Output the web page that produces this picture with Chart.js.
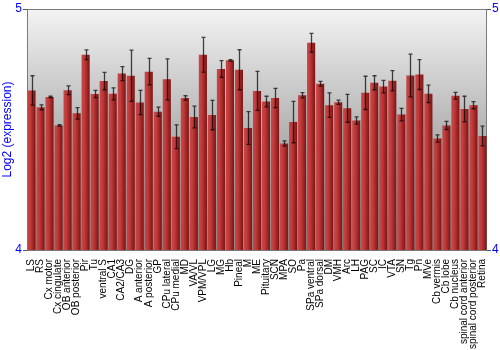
<!DOCTYPE html>
<html>
<head>
<meta charset="utf-8">
<script src="https://cdn.jsdelivr.net/npm/chart.js@4"></script>
<style>
  html, body { margin: 0; padding: 0; background: #fff; }
  #wrap { width: 500px; height: 350px; }
</style>
</head>
<body>
<div id="wrap"><canvas id="chart" width="500" height="350"></canvas></div>
<script>
// Regions (x axis)
const regions = [
  'LS', 'RS', 'Cx motor', 'Cx cingulate', 'OB anterior', 'OB posterior', 'Pir', 'Tu',
  'ventral S', 'CA1', 'CA2/CA3', 'DG', 'A anterior', 'A posterior', 'GP', 'CPu lateral',
  'CPu medial', 'MD', 'VA/VL', 'VPM/VPL', 'LG', 'MG', 'Hb', 'Pineal', 'M', 'ME',
  'Pituitary', 'SCN', 'MPA', 'SO', 'Pa', 'SPa ventral', 'SPa dorsal', 'DM', 'VMH', 'Arc',
  'LH', 'PAG', 'SC', 'IC', 'VTA', 'SN', 'Tg', 'Pn', 'MVe', 'Cb vermis', 'Cb lobe',
  'Cb nucleus', 'spinal cord anterior', 'spinal cord posterior', 'Retina'
];

// mean log2 expression
const expression = [
  4.662, 4.592, 4.635, 4.517, 4.663, 4.567, 4.810, 4.647,
  4.701, 4.648, 4.732, 4.723, 4.612, 4.740, 4.574, 4.708,
  4.470, 4.631, 4.552, 4.810, 4.560, 4.751, 4.787, 4.748, 4.506, 4.660,
  4.616, 4.631, 4.442, 4.531, 4.642, 4.860, 4.690, 4.601, 4.613, 4.588,
  4.537, 4.652, 4.694, 4.678, 4.702, 4.562, 4.724, 4.728, 4.648, 4.463, 4.517,
  4.640, 4.585, 4.601, 4.473
];

// error (half range)
const errors = [
  0.061, 0.010, 0.003, 0.003, 0.018, 0.024, 0.020, 0.015,
  0.036, 0.025, 0.029, 0.106, 0.050, 0.055, 0.019, 0.085,
  0.049, 0.009, 0.045, 0.072, 0.061, 0.035, 0.003, 0.083, 0.068, 0.081,
  0.022, 0.040, 0.011, 0.086, 0.011, 0.039, 0.010, 0.051, 0.009, 0.058,
  0.015, 0.069, 0.029, 0.026, 0.042, 0.026, 0.089, 0.062, 0.036, 0.015, 0.017,
  0.014, 0.053, 0.015, 0.041
];

const yTicks = [4, 5];

const BLUE = '#0000ff';
const FONT = "'Liberation Sans', Arial, sans-serif";

// grey gradient behind the bars + frame
const plotBackground = {
  id: 'plotBackground',
  beforeDraw(chart) {
    const { ctx, chartArea: a } = chart;
    if (!a) return;
    const g = ctx.createLinearGradient(0, a.top, 0, a.bottom);
    g.addColorStop(0, '#f3f3f3');
    g.addColorStop(0.5, '#b4b4b4');
    g.addColorStop(1, '#8c8c8c');
    ctx.save();
    ctx.fillStyle = g;
    ctx.fillRect(a.left, a.top, a.right - a.left, a.bottom - a.top);
    ctx.strokeStyle = '#7a7a7a';
    ctx.lineWidth = 1;
    ctx.strokeRect(a.left + 0.5, a.top + 0.5, a.right - a.left - 1, a.bottom - a.top);
    ctx.restore();
  }
};

// error bars drawn through the y scale
const errorBars = {
  id: 'errorBars',
  afterDatasetsDraw(chart) {
    const { ctx } = chart;
    const xs = chart.scales.x, ys = chart.scales.y;
    ctx.save();
    ctx.strokeStyle = 'rgba(0,0,0,0.72)';
    ctx.lineWidth = 1.3;
    expression.forEach((v, i) => {
      const x = Math.round(xs.getPixelForValue(i)) + 0.5;
      const yHi = ys.getPixelForValue(v + errors[i]);
      const yLo = ys.getPixelForValue(v - errors[i]);
      ctx.beginPath();
      ctx.moveTo(x, yHi); ctx.lineTo(x, yLo);
      ctx.moveTo(x - 2, yHi); ctx.lineTo(x + 2, yHi);
      ctx.moveTo(x - 2, yLo); ctx.lineTo(x + 2, yLo);
      ctx.stroke();
    });
    ctx.restore();
  }
};

function barGradient(context) {
  const chart = context.chart;
  if (!chart.chartArea || context.type !== 'data') return '#b03030';
  const x = chart.scales.x.getPixelForValue(context.dataIndex);
  const w = 4;
  const g = chart.ctx.createLinearGradient(x - w, 0, x + w, 0);
  g.addColorStop(0, '#c44848');
  g.addColorStop(0.35, '#c23a3a');
  g.addColorStop(1, '#7c1414');
  return g;
}

new Chart(document.getElementById('chart'), {
  type: 'bar',
  data: {
    labels: regions,
    datasets: [{
      label: 'Log2 (expression)',
      data: expression,
      backgroundColor: barGradient,
      borderWidth: 0,
      barPercentage: 0.9,
      categoryPercentage: 1.0
    }]
  },
  options: {
    responsive: false,
    animation: false,
    layout: { padding: { top: 9, right: 0, left: 0, bottom: 0 } },
    plugins: {
      legend: { display: false },
      tooltip: { enabled: false }
    },
    scales: {
      x: {
        grid: { display: false },
        border: { display: false },
        ticks: {
          autoSkip: false,
          maxRotation: 90,
          minRotation: 90,
          padding: 1,
          color: '#000',
          font: { family: FONT, size: 10 }
        },
        afterFit(scale) { scale.height = 100; }
      },
      y: {
        position: 'left',
        min: 4,
        max: 5,
        afterBuildTicks(scale) { scale.ticks = yTicks.map(v => ({ value: v })); },
        grid: { drawOnChartArea: false, tickLength: 4, color: '#555' },
        border: { display: false },
        ticks: { color: BLUE, padding: 1, font: { family: FONT, size: 12 } },
        title: {
          display: true,
          text: 'Log2 (expression)',
          color: BLUE,
          padding: 0,
          font: { family: FONT, size: 12 }
        },
        afterFit(scale) { scale.width = 27; }
      },
      y2: {
        position: 'right',
        min: 4,
        max: 5,
        afterBuildTicks(scale) { scale.ticks = yTicks.map(v => ({ value: v })); },
        grid: { drawOnChartArea: false, tickLength: 4, color: '#555' },
        border: { display: false },
        ticks: { color: BLUE, padding: 1, font: { family: FONT, size: 12 } },
        afterFit(scale) { scale.width = 13; }
      }
    }
  },
  plugins: [plotBackground, errorBars]
});
</script>
</body>
</html>
